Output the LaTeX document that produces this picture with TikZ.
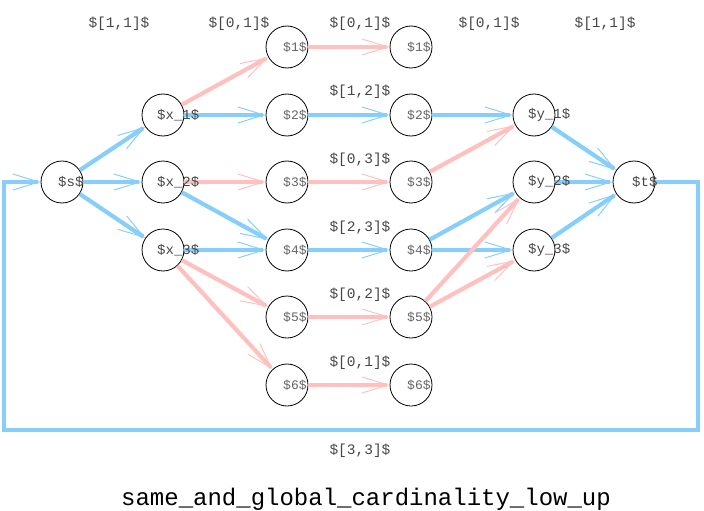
\documentclass[tikz,border=0pt]{standalone}
\usepackage{fontspec}
\setmonofont{Liberation Mono}
\usetikzlibrary{arrows.meta}

\definecolor{flowblue}{RGB}{135,206,250}
\definecolor{flowpink}{RGB}{255,192,192}
\definecolor{labelgray}{RGB}{70,70,70}
\definecolor{digitgray}{RGB}{100,100,100}

\tikzset{
  vertex/.style={circle, draw=black, line width=0.8pt, minimum size=42pt, inner sep=0pt},
  vname/.style={anchor=west, inner sep=0pt, text=labelgray, font=\ttfamily\fontsize{14}{14}\selectfont},
  dname/.style={vname, text=digitgray, font=\ttfamily\fontsize{13}{13}\selectfont},
  bound/.style={inner sep=0pt, text=labelgray, font=\ttfamily\fontsize{14.5}{14.5}\selectfont},
  vee/.style={-{Straight Barb[length=26pt,width=16pt,line width=1pt]}},
  blueflow/.style={draw=flowblue, line width=4.2pt, vee},
  pinkflow/.style={draw=flowpink, line width=4.2pt, vee},
}

\begin{document}
\begin{tikzpicture}[x=1pt,y=-1pt]
\useasboundingbox (0,0) rectangle (704,511);

% source, variables
\node[vertex] (s) at (62,182) {};
\node[vertex] (x1) at (163,115) {};
\node[vertex] (x2) at (163,182) {};
\node[vertex] (x3) at (163,250) {};
% values, left copy
\node[vertex] (a1) at (287,47) {};
\node[vertex] (a2) at (287,115) {};
\node[vertex] (a3) at (287,182) {};
\node[vertex] (a4) at (287,250) {};
\node[vertex] (a5) at (287,317) {};
\node[vertex] (a6) at (287,385) {};
% values, right copy
\node[vertex] (b1) at (411,47) {};
\node[vertex] (b2) at (411,115) {};
\node[vertex] (b3) at (411,182) {};
\node[vertex] (b4) at (411,250) {};
\node[vertex] (b5) at (411,317) {};
\node[vertex] (b6) at (411,385) {};
% second variables, sink
\node[vertex] (y1) at (534,115) {};
\node[vertex] (y2) at (534,182) {};
\node[vertex] (y3) at (534,250) {};
\node[vertex] (t) at (634,182) {};

\coordinate (loopr) at (698,430);
\coordinate (loopl) at (4,430);

% blue arcs
\draw[blueflow] (s) -- (x1);
\draw[blueflow] (s) -- (x2);
\draw[blueflow] (s) -- (x3);
\draw[blueflow] (x1) -- (a2);
\draw[blueflow] (x2) -- (a4);
\draw[blueflow] (x3) -- (a4);
\draw[blueflow] (a2) -- (b2);
\draw[blueflow] (a4) -- (b4);
\draw[blueflow] (b2) -- (y1);
\draw[blueflow] (b4) -- (y2);
\draw[blueflow] (b4) -- (y3);
\draw[blueflow] (y1) -- (t);
\draw[blueflow] (y2) -- (t);
\draw[blueflow] (y3) -- (t);
\draw[blueflow] (t) -| (loopr) -- (loopl) |- (s);
% pink arcs
\draw[pinkflow] (x1) -- (a1);
\draw[pinkflow] (a1) -- (b1);
\draw[pinkflow] (x2) -- (a3);
\draw[pinkflow] (a3) -- (b3);
\draw[pinkflow] (b3) -- (y1);
\draw[pinkflow] (x3) -- (a5);
\draw[pinkflow] (x3) -- (a6);
\draw[pinkflow] (a5) -- (b5);
\draw[pinkflow] (a6) -- (b6);
\draw[pinkflow] (b5) -- (y2);
\draw[pinkflow] (b5) -- (y3);

% vertex names
\node[vname] (ls) at ([xshift=-4pt]s.center) {\$s\$};
\node[vname] (lx1) at ([xshift=-6pt]x1.center) {\$x\_1\$};
\node[vname] (lx2) at ([xshift=-6pt]x2.center) {\$x\_2\$};
\node[vname] (lx3) at ([xshift=-6pt]x3.center) {\$x\_3\$};
\node[dname] (la1) at ([xshift=-4pt]a1.center) {\$1\$};
\node[dname] (la2) at ([xshift=-4pt]a2.center) {\$2\$};
\node[dname] (la3) at ([xshift=-4pt]a3.center) {\$3\$};
\node[dname] (la4) at ([xshift=-4pt]a4.center) {\$4\$};
\node[dname] (la5) at ([xshift=-4pt]a5.center) {\$5\$};
\node[dname] (la6) at ([xshift=-4pt]a6.center) {\$6\$};
\node[dname] (lb1) at ([xshift=-4pt]b1.center) {\$1\$};
\node[dname] (lb2) at ([xshift=-4pt]b2.center) {\$2\$};
\node[dname] (lb3) at ([xshift=-4pt]b3.center) {\$3\$};
\node[dname] (lb4) at ([xshift=-4pt]b4.center) {\$4\$};
\node[dname] (lb5) at ([xshift=-4pt]b5.center) {\$5\$};
\node[dname] (lb6) at ([xshift=-4pt]b6.center) {\$6\$};
\node[vname] (ly1) at ([xshift=-6pt]y1.center) {\$y\_1\$};
\node[vname] (ly2) at ([xshift=-6pt]y2.center) {\$y\_2\$};
\node[vname] (ly3) at ([xshift=-6pt]y3.center) {\$y\_3\$};
\node[vname] (lt) at ([xshift=-2pt]t.center) {\$t\$};

% bounds
\node[bound] (bsx) at (119,24) {\$[1,1]\$};
\node[bound] (bxa) at (239,24) {\$[0,1]\$};
\node[bound] (bab1) at (360,24) {\$[0,1]\$};
\node[bound] (bby) at (489,24) {\$[0,1]\$};
\node[bound] (byt) at (605,24) {\$[1,1]\$};
\node[bound] (bab2) at (360,92) {\$[1,2]\$};
\node[bound] (bab3) at (360,160) {\$[0,3]\$};
\node[bound] (bab4) at (360,228) {\$[2,3]\$};
\node[bound] (bab5) at (360,295) {\$[0,2]\$};
\node[bound] (bab6) at (360,363) {\$[0,1]\$};
\node[bound] (bts) at (360,451) {\$[3,3]\$};

\node[anchor=base, inner sep=0pt, font=\ttfamily\fontsize{24}{24}\selectfont] (title) at (366,505) {same\_and\_global\_cardinality\_low\_up};
\end{tikzpicture}
\end{document}
